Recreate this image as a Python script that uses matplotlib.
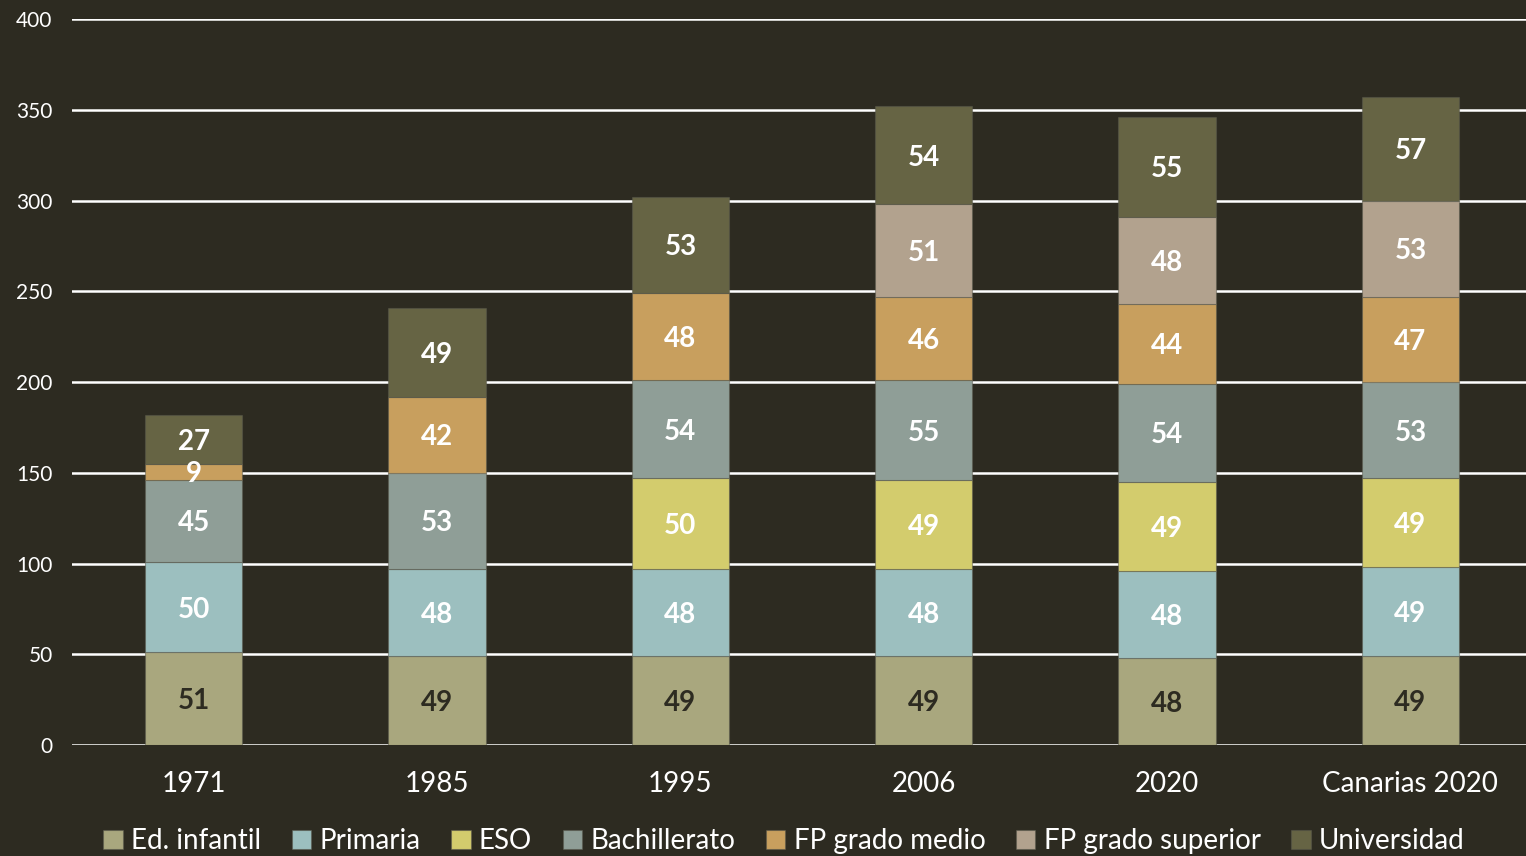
import matplotlib
matplotlib.use("Agg")
import matplotlib.pyplot as plt
import numpy as np

# ── Data ──────────────────────────────────────────────────────────────────────
categories = ["1971", "1985", "1995", "2006", "2020", "Canarias 2020"]
series_names = ["Ed. infantil", "Primaria", "ESO", "Bachillerato",
                "FP grado medio", "FP grado superior", "Universidad"]
ed_infantil  = [51, 49, 49, 49, 48, 49]
primaria     = [50, 48, 48, 48, 48, 49]
eso          = [0, 0, 50, 49, 49, 49]
bachillerato = [45, 53, 54, 55, 54, 53]
fp_medio     = [9, 42, 48, 46, 44, 47]
fp_superior  = [0, 0, 0, 51, 48, 53]
universidad  = [27, 49, 53, 54, 55, 57]
yticks = [0, 50, 100, 150, 200, 250, 300, 350, 400]

# ── Style ─────────────────────────────────────────────────────────────────────
BG = "#2d2b21"
COLORS = ["#a9a77e", "#9cbfbf", "#d3cc6d", "#8f9e97",
          "#c89f5e", "#b2a28e", "#666444"]
LABEL_COLORS = [BG, "white", "white", "white", "white", "white", "white"]
FONT = "Lato"

series = [ed_infantil, primaria, eso, bachillerato, fp_medio, fp_superior, universidad]

fig = plt.figure(figsize=(15.26, 8.56), dpi=100, facecolor=BG)
ax = fig.add_axes([72 / 1526, 1 - 745 / 856, 1 - 72 / 1526, 726 / 856])
ax.set_facecolor(BG)

x = np.arange(len(categories))
bottom = np.zeros(len(categories))
for name, vals, col, lcol in zip(series_names, series, COLORS, LABEL_COLORS):
    vals = np.array(vals, dtype=float)
    ax.bar(x, vals, 0.4, bottom=bottom, color=col, label=name,
           edgecolor=(0.35, 0.35, 0.3, 0.5), linewidth=0.8, zorder=3)
    for xi, b, v in zip(x, bottom, vals):
        if v > 0:
            ax.text(xi, b + v / 2, f"{int(v)}", ha="center", va="center_baseline",
                    fontsize=20, fontweight="bold", color=lcol,
                    family=FONT, zorder=4)
    bottom += vals

ax.set_ylim(0, 400)
ax.set_xlim(-0.5, 5.475)
ax.set_yticks(yticks)
ax.set_xticks(x)
ax.set_xticklabels(categories)
ax.yaxis.grid(True, color="white", linewidth=1.8, zorder=0)
ax.set_axisbelow(True)
for s in ax.spines.values():
    s.set_visible(False)
ax.tick_params(axis="both", length=0, colors="white")
ax.tick_params(axis="y", labelsize=15, pad=14)
ax.tick_params(axis="x", labelsize=20, pad=19)
for lab in ax.get_xticklabels() + ax.get_yticklabels():
    lab.set_family(FONT)

leg = fig.legend(loc="center", bbox_to_anchor=(784 / 1526, 1 - 841 / 856), ncol=7,
                 frameon=False, handlelength=0.7, handleheight=0.7,
                 handletextpad=0.3, columnspacing=1.1,
                 prop={"family": FONT, "size": 20})
for t in leg.get_texts():
    t.set_color("white")

fig.savefig("out.png", dpi=100, facecolor=BG)
